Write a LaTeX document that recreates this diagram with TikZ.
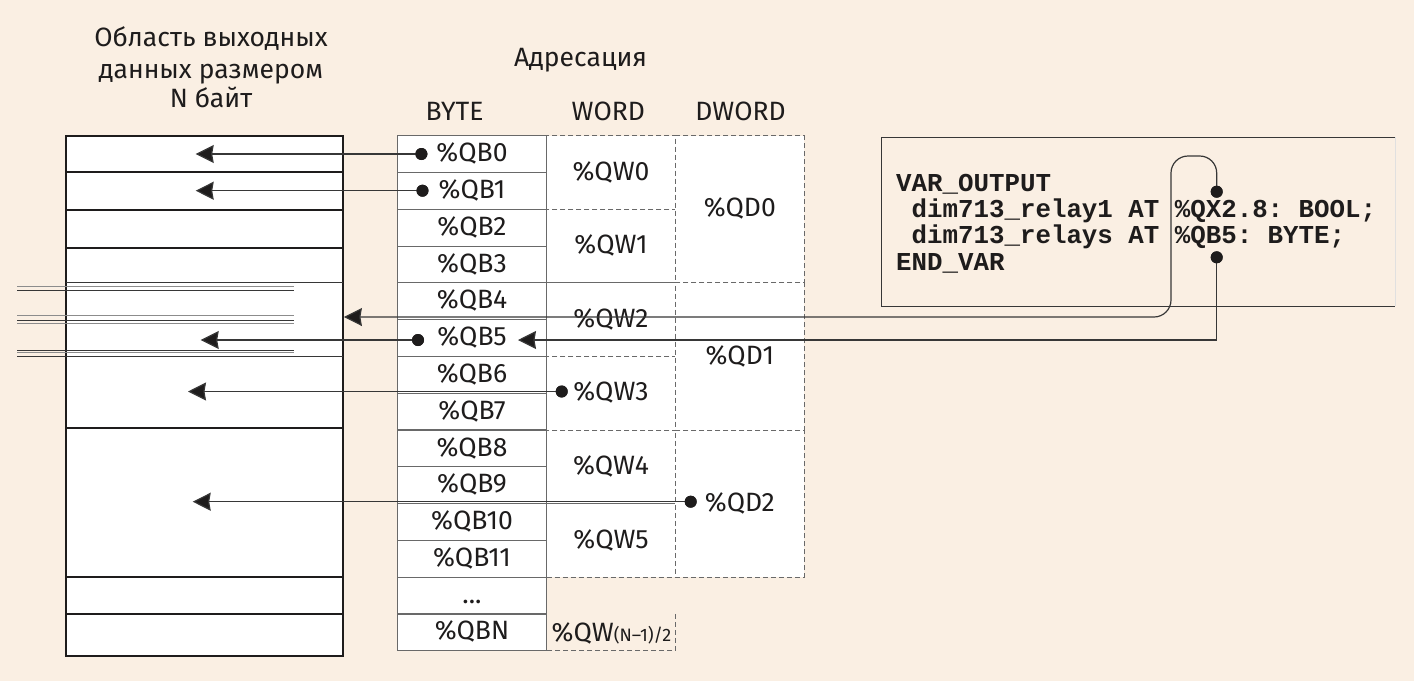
\documentclass[tikz,border=0pt]{standalone}
\usepackage{fontspec}
\setmainfont{Fira Sans}
\newfontfamily\codefont{Liberation Mono}
\usetikzlibrary{arrows.meta}
\definecolor{bgc}{RGB}{250,239,227}
\definecolor{ink}{RGB}{30,28,28}
\definecolor{gridc}{RGB}{105,105,105}
\definecolor{connc}{RGB}{55,55,55}
\definecolor{lgray}{RGB}{140,140,140}
\tikzset{
  lbl/.style={font=\fontsize{26.5}{30}\selectfont, text=ink, inner sep=0pt, anchor=base},
  celltxt/.style={font=\fontsize{26.5}{30}\selectfont, text=ink, inner sep=0pt, text height=18.3pt, text depth=3.1pt},
  bytecell/.style={celltxt, draw=gridc, line width=1.1pt, fill=white, minimum width=149.4pt, minimum height=36.79pt},
  wordcell/.style={celltxt, draw=gridc, line width=1pt, dash pattern=on 5pt off 3pt, fill=white, minimum width=128.6pt, minimum height=73.58pt},
  dwordcell/.style={celltxt, draw=gridc, line width=1pt, dash pattern=on 5pt off 3pt, fill=white, minimum width=129pt, minimum height=147.16pt},
  dashln/.style={draw=gridc, line width=1pt, dash pattern=on 5pt off 3pt},
  memblk/.style={draw=ink, line width=2.4pt, fill=white, inner sep=0pt},
  memthick/.style={draw=ink, line width=2.2pt},
  memthin/.style={draw=connc, line width=1pt},
  tripdark/.style={draw=connc, line width=1pt},
  triplight/.style={draw=lgray, line width=1pt},
  dotc/.style={circle, fill=ink, minimum size=12pt, inner sep=0pt},
  connline/.style={draw=connc, line width=1.2pt},
  arrowline/.style={connline, -{Stealth[length=18pt,width=18pt,inset=1.5pt,fill=ink]}},
  codetxt/.style={font=\codefont\bfseries\fontsize{25.8}{26}\selectfont, text=ink, inner sep=0pt, anchor=base west},
  codeframe/.style={draw=connc, line width=1.2pt},
}
\frenchspacing
\begin{document}
\begin{tikzpicture}[x=1pt,y=-1pt]
\fill[bgc] (0,0) rectangle (1414,681);
\useasboundingbox (0,0) rectangle (1414,681);

% titles
\node[lbl] (t1) at (211,46.7) {Область выходных};
\node[lbl] (t2) at (211,78.3) {данных размером};
\node[lbl] (t3) at (211,107.7) {N байт};
\node[lbl] (tadr) at (580.5,66.7) {Адресация};
\node[lbl] (hB) at (454.5,120) {BYTE};
\node[lbl] (hW) at (608.3,120.5) {WORD};
\node[lbl] (hD) at (740.5,120.5) {DWORD};

% memory block
\node[memblk, minimum width=276.7pt, minimum height=520.3pt] (mem) at (204.35,395.85) {};
\foreach \yy in {171.7,210,247.7,427.7,577.3,614.3}
  \draw[memthick] (66,\yy) -- (342.7,\yy);
\foreach \yy in {282.7,356}
  \draw[memthin] (66,\yy) -- (342.7,\yy);
% multi-line traces
\draw[triplight] (17,286) -- (294,286);
\draw[tripdark]  (17,290.7) -- (294,290.7);
\draw[triplight] (17,315.7) -- (294,315.7);
\draw[tripdark]  (17,320) -- (294,320);
\draw[triplight] (17,323.3) -- (294,323.3);
\draw[tripdark]  (17,350) -- (294,350);
\draw[triplight] (17,352.8) -- (294,352.8);
\draw[tripdark]  (17,356) -- (66,356);

% byte column
\foreach \i in {0,...,11}
  \node[bytecell] (b\i) at (472,{154.095+36.79*\i}) {\%QB\i};
\node[bytecell] (b12) at (472,{154.095+36.79*12}) {...};
\node[bytecell] (b13) at (472,{154.095+36.79*13}) {\%QBN};

% word column
\foreach \i in {0,...,5}
  \node[wordcell] (w\i) at (611,{172.49+73.58*\i}) {\%QW\i};
\draw[dashln] (675.3,613.97) -- (675.3,650.76) -- (546.7,650.76);
\node[lbl, anchor=base west] (wN) at (551.5,641.7) {\%QW{\fontsize{18}{20}\selectfont(N–1)/2}};

% dword column
\foreach \i in {0,1,2}
  \node[dwordcell] (d\i) at (739.8,{209.28+147.16*\i}) {\%QD\i};

% code box
\node[minimum width=513pt, minimum height=168.7pt, inner sep=0pt] (code) at (1138.5,221.65) {};
\draw[codeframe] (code.north east) -- (code.north west) -- (code.south west) -- (code.south east);
\draw[draw=black!12, line width=1pt] (code.north east) -- (code.south east);
\node[codetxt] (c1) at (896,191) {VAR\_OUTPUT};
\node[codetxt] (c2) at (911.5,217) {dim713\_relay1 AT \%QX2.8: BOOL;};
\node[codetxt] (c3) at (911.5,243) {dim713\_relays AT \%QB5: BYTE;};
\node[codetxt] (c4) at (896,270) {END\_VAR};

% dots
\node[dotc] (dQB0) at (421.4,154) {};
\node[dotc] (dQB1) at (422.5,190.7) {};
\node[dotc] (dQB5) at (418,340) {};
\node[dotc] (dQW3) at (561.7,391.5) {};
\node[dotc] (dQD2) at (690.7,501.7) {};
\node[dotc] (dQX) at (1216.7,191.7) {};
\node[dotc] (dQBc) at (1216.7,257.3) {};

% arrow targets
\coordinate (aQB0) at (195.7,154);
\coordinate (aQB1) at (195.7,190.7);
\coordinate (aQB5) at (200.7,340);
\coordinate (aQW3) at (188,391.5);
\coordinate (aQD2) at (192.7,501.7);
\coordinate (aLoop) at (mem.east |- 0,317);
\coordinate (aB5txt) at (518,340);
\coordinate (l1) at (1216.7,156);
\coordinate (l2) at (1171,156);
\coordinate (l3) at (1171,317);
\coordinate (l4) at (1216.7,340);

% connectors
\draw[arrowline] (dQB0.center) -- (aQB0);
\draw[arrowline] (dQB1.center) -- (aQB1);
\draw[arrowline] (dQB5.center) -- (aQB5);
\draw[arrowline] (dQW3.center) -- (aQW3);
\draw[arrowline] (dQD2.center) -- (aQD2);
\draw[arrowline, rounded corners=17pt] (dQX.center) -- (l1) -- (l2) -- (l3) -- (aLoop);
\draw[arrowline] (dQBc.center) -- (l4) -- (aB5txt);

% redraw dots on top
\foreach \n in {dQB0,dQB1,dQB5,dQW3,dQD2,dQX,dQBc}
  \fill[ink] (\n) circle (6pt);
\end{tikzpicture}
\end{document}
